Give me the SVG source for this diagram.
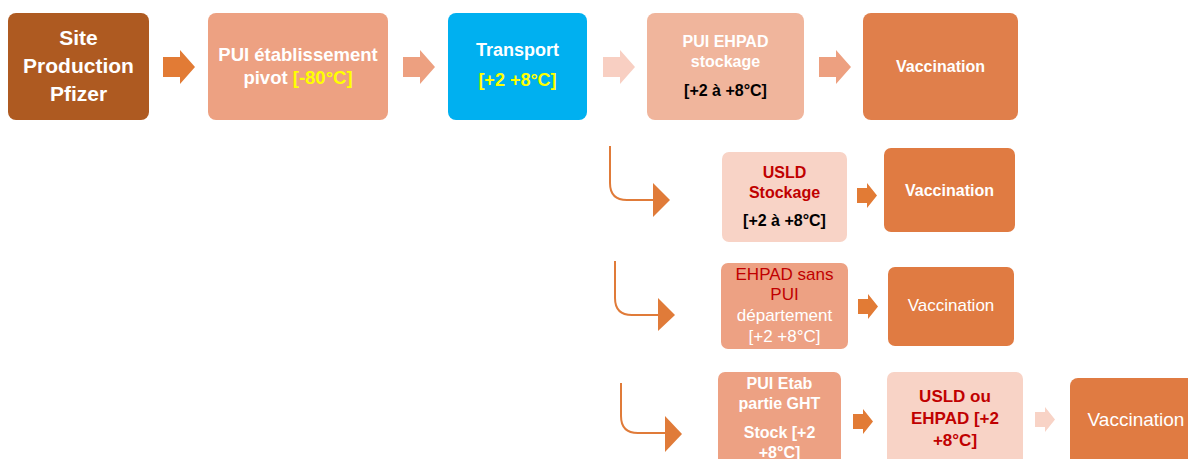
<svg xmlns="http://www.w3.org/2000/svg" width="1188" height="459" viewBox="0 0 1188 459">
<style>
text{font-family:"Liberation Sans",Arial,sans-serif;text-anchor:middle}
.b{font-weight:bold}
.w{fill:#FFFFFF}
.r{fill:#C00000}
.k{fill:#000000}
.y{fill:#FFFF00}
.curve{fill:none;stroke:#E07B39;stroke-width:2}
.head{fill:#E07B39}
</style>
<defs>
<path id="bigArrow" d="M0,7 H17 V0 L32,17 L17,34 V27 H0 Z"/>
<path id="smallArrow" d="M0,5 H10 V0 L20,12.5 L10,25 V20 H0 Z"/>
</defs>
<rect width="1188" height="459" fill="#FFFFFF"/>

<g id="connectors">
<use href="#bigArrow" x="163" y="50" fill="#E27B35"/>
<use href="#bigArrow" x="403" y="50" fill="#EDA080"/>
<use href="#bigArrow" x="603" y="50" fill="#F8CFC2"/>
<use href="#bigArrow" x="819" y="50" fill="#EDA080"/>
<path class="curve" d="M610,146 V183 Q610,200 627,200 H655"/>
<polygon class="head" points="653,183 670,200 653,217"/>
<path class="curve" d="M615,261 V298 Q615,315 632,315 H660"/>
<polygon class="head" points="658,298 675,315 658,331"/>
<path class="curve" d="M621,383 V416 Q621,433 638,433 H667"/>
<polygon class="head" points="665,416 682,434 665,452"/>
<use href="#smallArrow" x="857" y="183" fill="#E27B35"/>
<use href="#smallArrow" x="858" y="294" fill="#E27B35"/>
<use href="#smallArrow" x="853" y="409" fill="#E27B35"/>
<use href="#smallArrow" x="1035" y="407" fill="#F8D3C6"/>
</g>

<g id="site">
<rect x="8" y="13" width="141" height="107" rx="8" fill="#AE5A21"/>
<text class="b w" x="78.5" y="45" font-size="21">Site</text>
<text class="b w" x="78.5" y="73" font-size="21">Production</text>
<text class="b w" x="78.5" y="101" font-size="21">Pfizer</text>
</g>

<g id="pui-pivot">
<rect x="208" y="13" width="180" height="107" rx="8" fill="#EDA182"/>
<text class="b w" x="298" y="61" font-size="18.5">PUI établissement</text>
<text class="b w" x="298" y="84" font-size="18.5">pivot <tspan class="y">[-80°C]</tspan></text>
</g>

<g id="transport">
<rect x="448" y="13" width="139" height="107" rx="8" fill="#00B0F0"/>
<text class="b w" x="517.5" y="56" font-size="18">Transport</text>
<text class="b y" x="517.5" y="86" font-size="18">[+2 +8°C]</text>
</g>

<g id="pui-ehpad">
<rect x="647" y="13" width="157" height="107" rx="8" fill="#F0B59C"/>
<text class="b w" x="725.5" y="47" font-size="16">PUI EHPAD</text>
<text class="b w" x="725.5" y="67" font-size="16">stockage</text>
<text class="b k" x="725.5" y="96" font-size="16">[+2 à +8°C]</text>
</g>

<g id="vaccination-1">
<rect x="863" y="13" width="155" height="107" rx="8" fill="#E07F4B"/>
<text class="b w" x="940.5" y="72" font-size="16">Vaccination</text>
</g>

<g id="usld-stockage">
<rect x="722" y="152" width="125" height="90" rx="7" fill="#F8D3C6"/>
<text class="b r" x="784.5" y="178" font-size="16">USLD</text>
<text class="b r" x="784.5" y="198" font-size="16">Stockage</text>
<text class="b k" x="784.5" y="226" font-size="16">[+2 à +8°C]</text>
</g>

<g id="vaccination-2">
<rect x="884" y="148" width="131" height="84" rx="7" fill="#E07B42"/>
<text class="b w" x="949.5" y="196" font-size="16">Vaccination</text>
</g>

<g id="ehpad-sans-pui">
<rect x="721" y="263" width="127" height="86" rx="7" fill="#EDA183"/>
<text class="r" x="784.5" y="280" font-size="17">EHPAD sans</text>
<text class="r" x="784.5" y="300" font-size="17">PUI</text>
<text class="w" x="784.5" y="321" font-size="17">département</text>
<text class="w" x="784.5" y="342" font-size="17">[+2 +8°C]</text>
</g>

<g id="vaccination-3">
<rect x="888" y="267" width="126" height="79" rx="7" fill="#E07B42"/>
<text class="w" x="951" y="311" font-size="17">Vaccination</text>
</g>

<g id="pui-etab-ght">
<rect x="718" y="372" width="123" height="100" rx="7" fill="#EDA183"/>
<text class="b w" x="779.5" y="389" font-size="16">PUI Etab</text>
<text class="b w" x="779.5" y="409" font-size="16">partie GHT</text>
<text class="b w" x="779.5" y="438" font-size="16">Stock [+2</text>
<text class="b w" x="779.5" y="458" font-size="16">+8°C]</text>
</g>

<g id="usld-ou-ehpad">
<rect x="887" y="372" width="136" height="100" rx="7" fill="#F8D3C6"/>
<text class="b r" x="955" y="402" font-size="17">USLD ou</text>
<text class="b r" x="955" y="424" font-size="17">EHPAD [+2</text>
<text class="b r" x="955" y="446" font-size="17">+8°C]</text>
</g>

<g id="vaccination-4">
<rect x="1070" y="378" width="130" height="100" rx="8" fill="#E07B42"/>
<text class="w" x="1136" y="426" font-size="19">Vaccination</text>
</g>
</svg>
